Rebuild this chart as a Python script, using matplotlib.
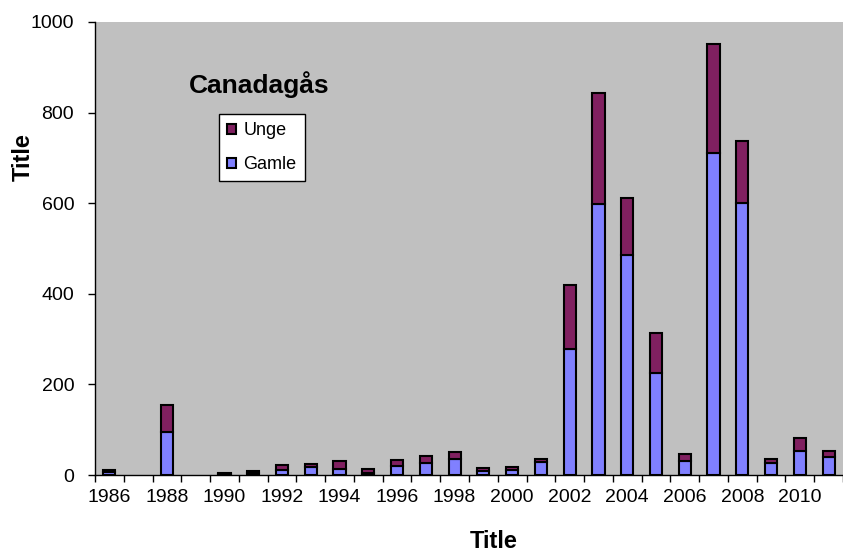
import matplotlib
matplotlib.use("Agg")
import matplotlib.pyplot as plt
from matplotlib.patches import Patch
import numpy as np

years = list(range(1986, 2012))
gamle = [6, 0, 94, 0, 2, 4, 10, 17, 13, 5, 20, 26, 35, 8, 11, 28,
         278, 598, 486, 225, 31, 711, 600, 26, 54, 39]
unge = [4, 0, 61, 0, 2, 4, 12, 7, 18, 8, 13, 16, 15, 8, 7, 7,
        141, 245, 125, 88, 15, 240, 137, 9, 27, 14]
tick_labels = [str(y) for y in years[::2]]

plt.rcParams['font.family'] = ['Liberation Sans', 'DejaVu Sans']

W, H = 843, 552
fig = plt.figure(figsize=(W / 100, H / 100), dpi=100)
ax = fig.add_axes([95 / W, 77 / H, 748 / W, 453 / H])
ax.set_facecolor('#C0C0C0')

x = np.arange(len(years))
w = 0.42
b1 = ax.bar(x, gamle, width=w, color='#8080FF', edgecolor='black', linewidth=1.5, zorder=3)
b2 = ax.bar(x, unge, width=w, bottom=gamle, color='#802060', edgecolor='black', linewidth=1.5, zorder=3)
for cont in (b1, b2):
    for p in cont.patches:
        if p.get_height() == 0:
            p.set_visible(False)

ax.set_xlim(-0.5, -0.5 + 748 / 29.1)
ax.set_ylim(0, 1000)
ax.set_yticks(range(0, 1001, 200))
ax.set_xticks(x[::2])
ax.set_xticklabels(tick_labels)
ax.set_xticks(np.arange(-0.5, len(years), 1), minor=True)
ax.tick_params(axis='x', which='major', length=0, labelsize=14, pad=10)
ax.tick_params(axis='x', which='minor', length=5, width=1, direction='out')
ax.tick_params(axis='y', length=5, width=1, direction='out', labelsize=14, pad=10)

for s in ['top', 'right']:
    ax.spines[s].set_visible(False)
for s in ['left', 'bottom']:
    ax.spines[s].set_linewidth(1)

fig.text(494 / W, 1 - 542 / H, 'Title', fontsize=17, fontweight='bold', ha='center', va='center')
fig.text(23 / W, 1 - 157 / H, 'Title', fontsize=17, fontweight='bold', ha='center', va='center',
         rotation=90)
fig.text(259 / W, 1 - 93 / H, 'Canadagås', fontsize=19, fontweight='bold', ha='center',
         va='baseline')

handles = [Patch(facecolor='#802060', edgecolor='black', linewidth=1.5),
           Patch(facecolor='#8080FF', edgecolor='black', linewidth=1.5)]
leg = ax.legend(handles, ['Unge', 'Gamle'], loc='upper left',
                bbox_to_anchor=(219 / W, 1 - 114 / H), bbox_transform=fig.transFigure,
                frameon=True, fancybox=False, edgecolor='black', facecolor='white',
                framealpha=1, fontsize=13, handlelength=0.5, handleheight=0.5,
                handletextpad=0.4, labelspacing=0.95, borderpad=0.45, borderaxespad=0)
leg.get_frame().set_linewidth(1)

fig.savefig('out.png', dpi=100)
